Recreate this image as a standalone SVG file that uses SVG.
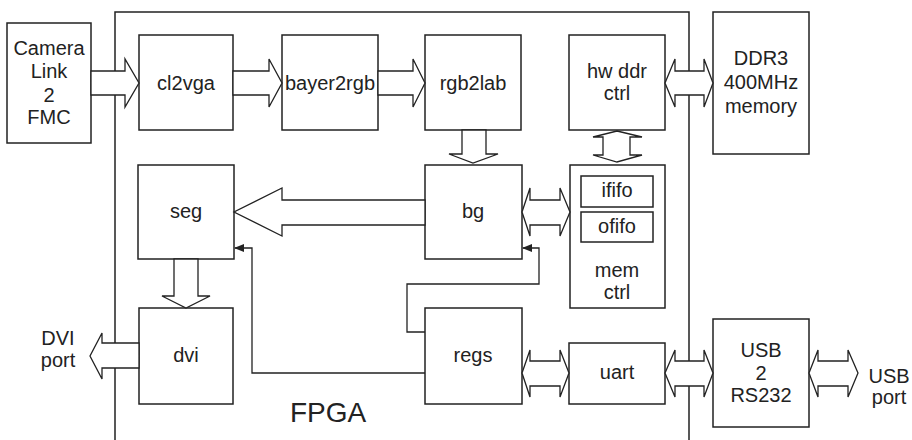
<svg xmlns="http://www.w3.org/2000/svg" width="912" height="440" viewBox="0 0 912 440">
<defs>
<style>
.box{fill:#fff;stroke:#222;stroke-width:1.5}
.fr{fill:none;stroke:#222;stroke-width:1.5}
.ar{fill:#fff;stroke:#222;stroke-width:1.3;stroke-linejoin:miter}
.ln{fill:none;stroke:#222;stroke-width:1.3}
text{font-family:"Liberation Sans",Arial,sans-serif;font-size:20px;fill:#222;text-anchor:middle}
</style>
<marker id="ah" markerWidth="10" markerHeight="8" refX="9" refY="4" orient="auto" markerUnits="userSpaceOnUse">
<path d="M0,0 L10,4 L0,8 Z" fill="#222"/>
</marker>
</defs>
<rect width="912" height="440" fill="#fff"/>
<g id="fpga">
<path class="fr" d="M115,450 V12 H689 V450"/>
<text x="328" y="422" style="font-size:28px">FPGA</text>
</g>
<g id="camera"><rect class="box" x="7" y="23" width="84" height="120"/>
<text x="49" y="55">Camera</text><text x="49" y="78">Link</text><text x="49" y="102">2</text><text x="49" y="124">FMC</text></g>
<g id="cl2vga"><rect class="box" x="139" y="35" width="94" height="95"/><text x="186" y="90">cl2vga</text></g>
<g id="bayer2rgb"><rect class="box" x="282" y="35" width="96" height="95"/><text x="330" y="90">bayer2rgb</text></g>
<g id="rgb2lab"><rect class="box" x="425" y="35" width="96" height="95"/><text x="473" y="90">rgb2lab</text></g>
<g id="hwddr"><rect class="box" x="569" y="35" width="96" height="95"/><text x="617" y="78">hw ddr</text><text x="617" y="100">ctrl</text></g>
<g id="ddr3"><rect class="box" x="713" y="12" width="96" height="142"/><text x="761" y="65">DDR3</text><text x="761" y="89">400MHz</text><text x="761" y="113">memory</text></g>
<g id="seg"><rect class="box" x="138" y="165" width="96" height="94"/><text x="186" y="218">seg</text></g>
<g id="bg"><rect class="box" x="425" y="165" width="97" height="94"/><text x="473" y="218">bg</text></g>
<g id="memctrl"><rect class="box" x="570" y="165" width="95" height="143"/>
<rect class="box" x="581" y="176" width="72" height="31"/><text x="617" y="197">ififo</text>
<rect class="box" x="581" y="212" width="72" height="30"/><text x="617" y="233">ofifo</text>
<text x="617" y="277">mem</text><text x="617" y="299">ctrl</text></g>
<g id="dvi"><rect class="box" x="139" y="308" width="94" height="96"/><text x="186" y="362">dvi</text></g>
<g id="regs"><rect class="box" x="425" y="308" width="97" height="96"/><text x="473" y="362">regs</text></g>
<g id="uart"><rect class="box" x="569" y="343" width="96" height="61"/><text x="617" y="379">uart</text></g>
<g id="usb2rs232"><rect class="box" x="713" y="319" width="96" height="108"/><text x="761" y="357">USB</text><text x="761" y="380">2</text><text x="761" y="402">RS232</text></g>
<g id="dviport"><text x="58" y="345">DVI</text><text x="58" y="367">port</text></g>
<g id="usbport"><text x="889" y="383">USB</text><text x="889" y="404">port</text></g>
<g id="connectors">
<polygon class="ar" points="91,71 125,71 125,59 139,83 125,107 125,95 91,95"/>
<polygon class="ar" points="233,71 269,71 269,59 282,83 269,107 269,95 233,95"/>
<polygon class="ar" points="378,71 413,71 413,59 425,83 413,107 413,95 378,95"/>
<polygon class="ar" points="462,130 486,130 486,154 498,154 473,163 449,154 462,154"/>
<polygon class="ar" points="665,83 675,59 675,71 704,71 704,59 713,83 704,107 704,95 675,95 675,107"/>
<polygon class="ar" points="617,131 642,137 630,137 630,155 642,155 617,162 593,155 603,155 603,137 593,137"/>
<polygon class="ar" points="522,212 530,188 530,200 560,200 560,188 570,212 560,236 560,225 530,225 530,236"/>
<polygon class="ar" points="425,200 282,200 282,188 234,212 282,236 282,225 425,225"/>
<polygon class="ar" points="174,259 198,259 198,296 210,296 186,308 162,296 174,296"/>
<polygon class="ar" points="139,343 102,343 102,333 90,356 102,379 102,368 139,368"/>
<polygon class="ar" points="522,373 530,350 530,361 560,361 560,350 569,373 560,397 560,386 530,386 530,397"/>
<polygon class="ar" points="665,373 675,350 675,361 704,361 704,350 713,373 704,397 704,386 675,386 675,397"/>
<polygon class="ar" points="809,373 818,350 818,361 848,361 848,350 858,373 848,397 848,386 818,386 818,397"/>
<path class="ln" d="M425,373 H252 V248 H235" marker-end="url(#ah)"/>
<path class="ln" d="M425,332 H407 V284 H539 V248 H523" marker-end="url(#ah)"/>
</g>
</svg>
